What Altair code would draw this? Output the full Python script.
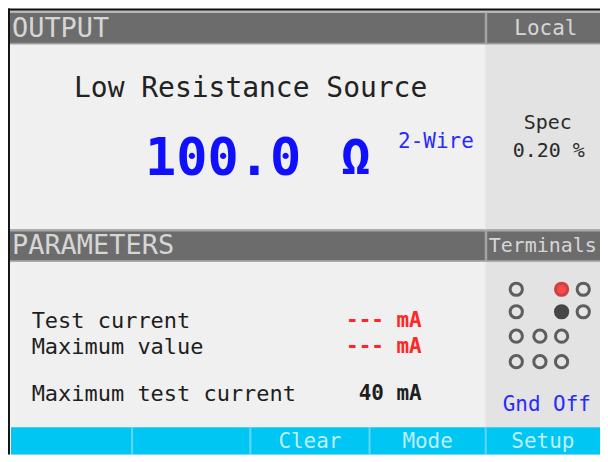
import altair as alt
import pandas as pd

# ---------------- content (values / texts) ----------------
header_titles = ["OUTPUT", "Local", "PARAMETERS", "Terminals"]
function_name = "Low Resistance Source"
reading_value = "100.0"
reading_unit = "Ω"
wire_mode = "2-Wire"
spec_label = "Spec"
spec_value = "0.20 %"
param_labels = ["Test current", "Maximum value", "Maximum test current"]
param_values = ["--- mA", "--- mA", "40 mA"]
param_state = ["unset", "unset", "set"]
softkeys = ["", "", "Clear", "Mode", "Setup"]
ground_state = "Gnd Off"
# terminal grid, row by row: open / red / black / none
terminal_rows = [
    ["open", "none", "red", "open"],
    ["open", "none", "black", "open"],
    ["open", "open", "open", "none"],
    ["open", "open", "open", "none"],
]

# ---------------- layout (screen positions) ----------------
MONO = "DejaVu Sans Mono"
W, H = 592, 446
xs = alt.Scale(domain=[8, 608], nice=False, zero=False)
ys = alt.Scale(domain=[7, 462], nice=False, zero=False, reverse=True)

panel_x = [9, 492, 608]
band_y = [9, 43, 232, 265, 434, 462]
softkey_edges = [10, 133, 253, 374, 492, 608]
term_col_x = [523, 547, 569, 591]
term_row_y = [293, 316, 341, 367]
param_row_y = [325, 352, 400]

HEADER = "#6c6c6c"
BODY = "#f0f0f0"
SIDE = "#e3e3e3"
KEY = "#00c6f4"

rects = []
def rect(x, x2, y, y2, c):
    rects.append(dict(x=x, x2=x2, y=y, y2=y2, c=c))

rect(7, 608, 6, 8.5, "#111111")        # frame top
rect(7, 9, 6, 462, "#111111")          # frame left
rect(9, 608, 8.5, 10.5, "#bdbdbd")
rect(9, 608, band_y[0] + 1.5, band_y[1], HEADER)
rect(9, 608, band_y[1] - 2, band_y[1], "#9a9a9a")
rect(panel_x[0], panel_x[1], band_y[1], band_y[2], BODY)
rect(panel_x[1], panel_x[2], band_y[1], band_y[2], SIDE)
rect(9, 608, band_y[2], band_y[3], HEADER)
rect(9, 608, band_y[2], band_y[2] + 2, "#a8a8a8")
rect(9, 608, band_y[3] - 2, band_y[3], "#9a9a9a")
rect(panel_x[0], panel_x[1], band_y[3], band_y[4], BODY)
rect(panel_x[1], panel_x[2], band_y[3], band_y[4], SIDE)
# vertical divider in headers / panels
rect(491, 493.5, band_y[0] + 1.5, band_y[1], "#a4a4a4")
rect(491, 493.5, band_y[2], band_y[3], "#a4a4a4")
rect(491, 492.5, band_y[1], band_y[2], "#e8e8e8")
rect(491, 492.5, band_y[3], band_y[4], "#e8e8e8")
# softkey bar
rect(softkey_edges[0], 608, band_y[4], band_y[5], KEY)
for e in softkey_edges[1:-1]:
    rect(e - 1, e + 1, band_y[4], band_y[5], "#5fd8f8")
rect_df = pd.DataFrame(rects)

X = alt.X("x:Q", scale=xs, axis=None)
Y = alt.Y("y:Q", scale=ys, axis=None)

rect_layer = alt.Chart(rect_df).mark_rect().encode(
    x=X, x2="x2:Q", y=Y, y2="y2:Q", color=alt.Color("c:N", scale=None)
)

def texts(rows, align, weight="normal"):
    df = pd.DataFrame(rows, columns=["text", "x", "y", "c", "s"])
    return alt.Chart(df).mark_text(
        align=align, baseline="middle", font=MONO, fontWeight=weight
    ).encode(
        x=X, y=Y, text="text:N",
        color=alt.Color("c:N", scale=None),
        size=alt.Size("s:Q", scale=None),
    )

left_rows = [
    [header_titles[0], 11, 27, "#d6d6d6", 27],
    [header_titles[2], 11, 249, "#d6d6d6", 27],
    [header_titles[3], 495, 249, "#d6d6d6", 20],
    [function_name, 74, 88, "#222222", 28],
    [wire_mode, 403, 143, "#2a2aff", 21],
]
for lab, yy in zip(param_labels, param_row_y):
    left_rows.append([lab, 31, yy, "#1e1e1e", 22])

center_rows = [
    [header_titles[1], 553, 27, "#d6d6d6", 21],
    [spec_label, 555, 123, "#2a2a2a", 20],
    [spec_value, 556, 152, "#2a2a2a", 20],
    [ground_state, 554, 411, "#2a2aff", 21],
]
for i, k in enumerate(softkeys):
    if k:
        cx = (softkey_edges[i] + softkey_edges[i + 1]) / 2
        center_rows.append([k, cx, 449, "#bfefff", 21])

right_rows = []
for v, st, yy in zip(param_values, param_state, param_row_y):
    right_rows.append([v, 427, yy, "#ff2626" if st == "unset" else "#1e1e1e", 21])

big_rows = [
    [reading_value, 146, 160, "#1010ff", 52],
]
unit_rows = [
    [reading_unit, 360, 160, "#1010ff", 50],
]

text_layers = [
    texts(left_rows, "left"),
    texts(center_rows, "center"),
    texts(right_rows, "right", "bold"),
    texts(big_rows, "left", "bold"),
    texts(unit_rows, "center", "bold"),
]

# terminals
term = []
for r, row in enumerate(terminal_rows):
    for c, st in enumerate(row):
        if st != "none":
            term.append(dict(x=term_col_x[c], y=term_row_y[r], state=st))
term_df = pd.DataFrame(term)
fill_map = {"open": "#e6e6e6", "red": "#ff0a0a", "black": "#050505"}
stroke_map = {"open": "#262626", "red": "#c00000", "black": "#050505"}
term_df["f"] = term_df["state"].map(fill_map)
term_df["s"] = term_df["state"].map(stroke_map)
term_layer = alt.Chart(term_df).mark_point(
    shape="circle", filled=False, size=150, strokeWidth=3
).encode(
    x=X, y=Y,
    fill=alt.Fill("f:N", scale=None),
    stroke=alt.Stroke("s:N", scale=None),
)

chart = alt.layer(rect_layer, *text_layers, term_layer).properties(
    width=W, height=H, padding=0
).configure_view(stroke=None).configure(background="#ffffff")

chart.save("out.html", embed_options={"renderer": "svg", "actions": False})
